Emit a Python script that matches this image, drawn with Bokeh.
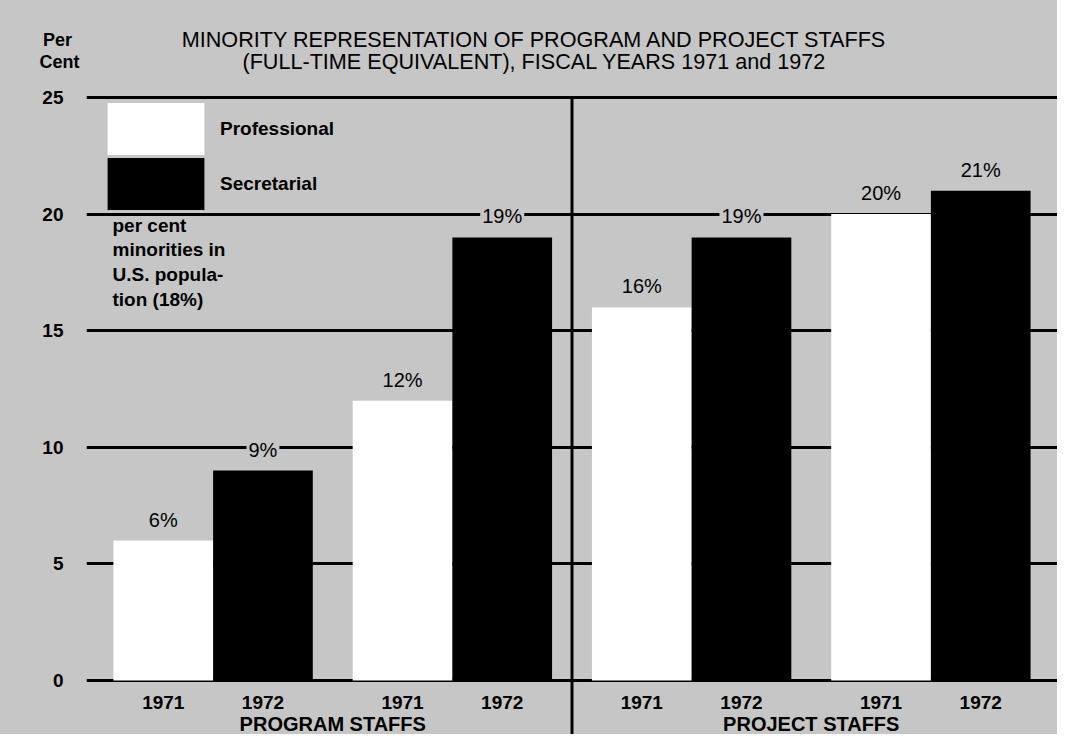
from bokeh.plotting import figure
from bokeh.layouts import column
from bokeh.models import (ColumnDataSource, FactorRange, Range1d, FixedTicker,
                          Label, Legend, LegendItem)
from bokeh.core.properties import value
from bokeh.embed import file_html
from bokeh.resources import INLINE

# ---------------- data ----------------
staff_groups = ["PROGRAM STAFFS", "PROJECT STAFFS"]
pair_ids = ["A", "B"]
years = ["1971", "1972"]
pct_1971 = [6, 12, 16, 20]      # white bars (Professional)
pct_1972 = [9, 19, 19, 21]      # black bars (Secretarial)
y_ticks = [0, 5, 10, 15, 20, 25]
legend_labels = ["Professional", "Secretarial"]
title_lines = ["MINORITY REPRESENTATION OF PROGRAM AND PROJECT STAFFS",
               "(FULL-TIME EQUIVALENT), FISCAL YEARS 1971 and 1972"]
y_title_lines = ["Per", "Cent"]
note_text = "per cent\nminorities in\nU.S. popula-\ntion (18%)"

BG = "#c6c6c6"
FONT = "Liberation Sans"
W = 1057
HEAD_H = 86
MAIN_H = 648

# ---------------- header (title area) ----------------
head = figure(width=W, height=HEAD_H, x_range=Range1d(0, W), y_range=Range1d(0, HEAD_H),
              output_backend="svg", toolbar_location=None,
              x_axis_location=None, y_axis_location=None,
              min_border_left=0, min_border_right=0, min_border_top=0,
              min_border_bottom=0)
head.frame_align = False
head.background_fill_color = BG
head.border_fill_color = BG
head.outline_line_color = None
head.grid.visible = False
head.styles = {"background-color": BG}

for txt, yy in zip(title_lines, [47, 25]):
    head.add_layout(Label(x=534, y=yy, x_units="screen", y_units="screen", text=txt,
                          text_align="center", text_baseline="middle",
                          text_font=FONT, text_font_size="21.6px", text_color="black"))
for txt, xx, yy in zip(y_title_lines, [57, 59], [47, 25]):
    head.add_layout(Label(x=xx, y=yy, x_units="screen", y_units="screen", text=txt,
                          text_align="center", text_baseline="middle",
                          text_font=FONT, text_font_style="bold",
                          text_font_size="18px", text_color="black"))

# ---------------- main chart ----------------
pairs = [(g, p) for g in staff_groups for p in pair_ids]
f_1971 = [(g, p, years[0]) for g, p in pairs]
f_1972 = [(g, p, years[1]) for g, p in pairs]
all_factors = [f for pair in zip(f_1971, f_1972) for f in pair]
all_years = [f[2] for f in all_factors]

x_range = FactorRange(*all_factors, factor_padding=0.0, subgroup_padding=0.4,
                      group_padding=0.4, range_padding=0.27,
                      range_padding_units="absolute")
y_range = Range1d(-2.316, 25.472)

p = figure(width=W, height=MAIN_H, x_range=x_range, y_range=y_range,
           output_backend="svg", toolbar_location=None, x_axis_location=None,
           min_border_left=86, min_border_top=0, min_border_right=0,
           min_border_bottom=0)
p.frame_align = False
p.background_fill_color = BG
p.border_fill_color = BG
p.outline_line_color = None
p.styles = {"background-color": BG}

# grid
p.xgrid.visible = False
p.ygrid.ticker = FixedTicker(ticks=y_ticks)
p.ygrid.grid_line_color = "black"
p.ygrid.grid_line_width = 3

# y axis
p.yaxis.ticker = FixedTicker(ticks=y_ticks)
p.yaxis.axis_line_color = None
p.yaxis.major_tick_line_color = None
p.yaxis.minor_tick_line_color = None
p.yaxis.major_label_standoff = 17
p.yaxis.major_label_text_font = FONT
p.yaxis.major_label_text_font_style = "bold"
p.yaxis.major_label_text_font_size = "19px"
p.yaxis.major_label_text_color = "black"

# bars
src_w = ColumnDataSource(dict(x=f_1971, top=pct_1971,
                              lab=[f"{v}%" for v in pct_1971]))
src_b = ColumnDataSource(dict(x=f_1972, top=pct_1972,
                              lab=[f"{v}%" for v in pct_1972]))
r_w = p.vbar(x="x", top="top", bottom=0, width=1.0, source=src_w,
             fill_color="white", line_color=None)
r_b = p.vbar(x="x", top="top", bottom=0, width=1.0, source=src_b,
             fill_color="black", line_color=None)

# divider between the two staff groups
div_src = ColumnDataSource(dict(x=[(staff_groups[1], pair_ids[0], years[0], -0.7)],
                                y0=[y_ticks[-1]], y1=[y_range.start]))
p.segment(x0="x", x1="x", y0="y0", y1="y1", source=div_src,
          line_color="black", line_width=3)

# value labels
for src in (src_w, src_b):
    p.text(x="x", y="top", text="lab", source=src, text_align="center",
           text_baseline="bottom", y_offset=-8, text_font=value(FONT),
           text_font_size="20px", text_color="black",
           background_fill_color=BG, padding=2)

# year labels and group labels
yr_src = ColumnDataSource(dict(x=all_factors, y=[0] * len(all_factors), t=all_years))
p.text(x="x", y="y", text="t", source=yr_src, text_align="center",
       text_baseline="middle", y_offset=22, text_font=value(FONT),
       text_font_style="bold", text_font_size="19px", text_color="black")
grp_src = ColumnDataSource(dict(x=staff_groups, y=[0] * 2, t=staff_groups))
p.text(x="x", y="y", text="t", source=grp_src, text_align="center",
       text_baseline="middle", y_offset=44, text_font=value(FONT),
       text_font_style="bold", text_font_size="20px", text_color="black")

# legend (one box per item so the boxes sit close together)
for lab, rend, loc in zip(legend_labels, [r_w, r_b], [(9, 573), (9, 518)]):
    lg = Legend(items=[LegendItem(label=lab, renderers=[rend])],
                location=loc, glyph_width=121, glyph_height=65,
                spacing=0, label_standoff=4, padding=0, margin=0,
                background_fill_alpha=0, border_line_color=None,
                label_text_font=FONT, label_text_font_style="bold",
                label_text_font_size="19px", label_text_color="black")
    p.add_layout(lg)

p.add_layout(Label(x=26, y=520, x_units="screen", y_units="screen", text=note_text,
                   text_align="left", text_baseline="top", text_line_height=1.18,
                   text_font=FONT, text_font_style="bold", text_font_size="19px",
                   text_color="black"))

layout = column(head, p, spacing=0)
open("out.html", "w").write(file_html(layout, INLINE))
